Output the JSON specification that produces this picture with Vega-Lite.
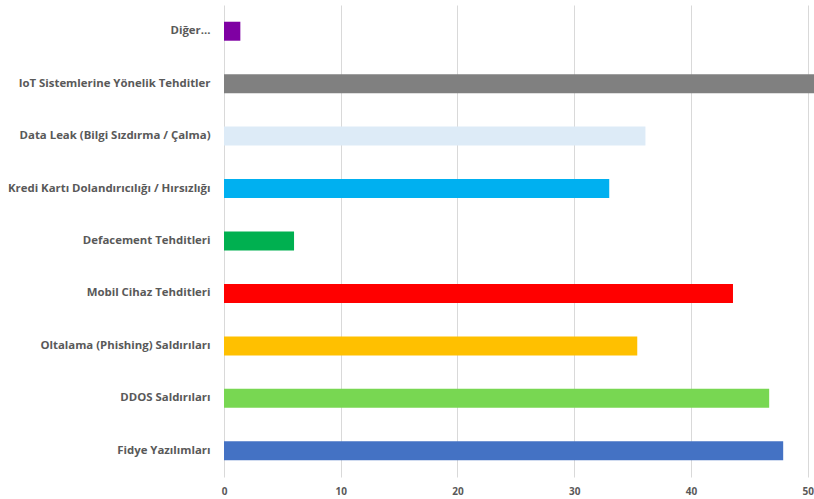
{
  "$schema": "https://vega.github.io/schema/vega-lite/v6.json",
  "autosize": {"type": "none"},
  "padding": {"left": 224, "top": 5, "right": 6.3, "bottom": 22},
  "width": 583.7,
  "height": 472,
  "background": "white",
  "data": {
    "values": [
      {"kategori": "Diğer...", "deger": 1.4, "renk": "#7F00A3"},
      {"kategori": "IoT Sistemlerine Yönelik Tehditler", "deger": 52, "renk": "#808080"},
      {"kategori": "Data Leak (Bilgi Sızdırma / Çalma)", "deger": 36.1, "renk": "#DDEBF7"},
      {"kategori": "Kredi Kartı Dolandırıcılığı / Hırsızlığı", "deger": 33.0, "renk": "#00B0F0"},
      {"kategori": "Defacement Tehditleri", "deger": 6.0, "renk": "#00B050"},
      {"kategori": "Mobil Cihaz Tehditleri", "deger": 43.6, "renk": "#FF0000"},
      {"kategori": "Oltalama (Phishing) Saldırıları", "deger": 35.4, "renk": "#FFC000"},
      {"kategori": "DDOS Saldırıları", "deger": 46.7, "renk": "#78D752"},
      {"kategori": "Fidye Yazılımları", "deger": 47.9, "renk": "#4472C4"}
    ]
  },
  "mark": {"type": "bar", "clip": false},
  "encoding": {
    "y": {
      "field": "kategori",
      "type": "nominal",
      "sort": null,
      "title": null,
      "scale": {"paddingInner": 0.638, "paddingOuter": 0.319},
      "axis": {
        "domain": false,
        "ticks": false,
        "labelPadding": 14,
        "labelFont": "Open Sans",
        "labelFontWeight": "bold",
        "labelFontSize": 11.4,
        "labelColor": "#595959",
        "labelLimit": 300
      }
    },
    "x": {
      "field": "deger",
      "type": "quantitative",
      "title": null,
      "scale": {"domain": [0, 50], "nice": false},
      "axis": {
        "values": [0, 10, 20, 30, 40, 50],
        "domain": false,
        "ticks": false,
        "grid": true,
        "gridColor": "#D9D9D9",
        "gridWidth": 1,
        "labelPadding": 9,
        "labelFont": "Open Sans",
        "labelFontWeight": "bold",
        "labelFontSize": 10,
        "labelColor": "#595959",
        "labelFlush": false
      }
    },
    "color": {"field": "renk", "type": "nominal", "scale": null, "legend": null}
  },
  "config": {"view": {"stroke": null}}
}
